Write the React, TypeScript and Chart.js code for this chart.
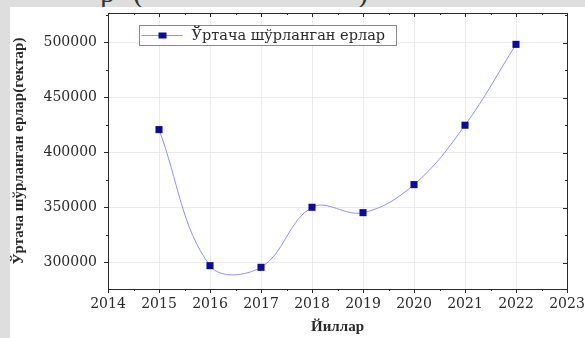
import React, { useEffect, useRef } from "react";
import { Chart, registerables } from "chart.js";

Chart.register(...registerables);

const years = [2015, 2016, 2017, 2018, 2019, 2020, 2021, 2022];
const values = [421000, 297300, 295800, 350400, 345500, 371000, 425000, 498500];
const xTicks = [2014, 2015, 2016, 2017, 2018, 2019, 2020, 2021, 2022, 2023];
const yTicks = [300000, 350000, 400000, 450000, 500000];
const xMinor = [2014.5, 2015.5, 2016.5, 2017.5, 2018.5, 2019.5, 2020.5, 2021.5, 2022.5];
const yMinor = [275000, 325000, 375000, 425000, 475000, 525000];
const seriesLabel = "Ўртача шўрланган ерлар";
const xTitle = "Йиллар";
const yTitle = "Ўртача шўрланган ерлар(гектар)";

const AXIS = "#2a2a2a";

const framePlugin = {
  id: "frame",
  afterDatasetsDraw(chart: any) {
    const { ctx, chartArea: a, scales } = chart;
    const xs = scales.x;
    const ys = scales.y;
    ctx.save();
    ctx.strokeStyle = AXIS;
    ctx.lineWidth = 1;
    ctx.strokeRect(Math.round(a.left) + 0.5, Math.round(a.top) + 0.5, Math.round(a.right - a.left), Math.round(a.bottom - a.top));
    ctx.beginPath();
    xTicks.forEach((v) => {
      const px = Math.round(xs.getPixelForValue(v)) + 0.5;
      ctx.moveTo(px, a.top);
      ctx.lineTo(px, a.top + 4);
    });
    yTicks.forEach((v) => {
      const py = Math.round(ys.getPixelForValue(v)) + 0.5;
      ctx.moveTo(a.right, py);
      ctx.lineTo(a.right - 4, py);
    });
    xMinor.forEach((v) => {
      const px = Math.round(xs.getPixelForValue(v)) + 0.5;
      ctx.moveTo(px, a.bottom);
      ctx.lineTo(px, a.bottom + 2);
      ctx.moveTo(px, a.top);
      ctx.lineTo(px, a.top + 2);
    });
    yMinor.forEach((v) => {
      if (v < ys.min || v > ys.max) return;
      const py = Math.round(ys.getPixelForValue(v)) + 0.5;
      ctx.moveTo(a.left, py);
      ctx.lineTo(a.left - 2, py);
      ctx.moveTo(a.right, py);
      ctx.lineTo(a.right - 2, py);
    });
    ctx.stroke();

    const ds = chart.data.datasets[0];
    const bx = 139.5, by = 25.5, bw = 257, bh = 20;
    ctx.fillStyle = "#ffffff";
    ctx.fillRect(bx, by, bw, bh);
    ctx.strokeStyle = "#8a8a8a";
    ctx.strokeRect(bx, by, bw, bh);
    const cy = by + bh / 2;
    ctx.strokeStyle = ds.borderColor;
    ctx.beginPath();
    ctx.moveTo(bx + 2, cy);
    ctx.lineTo(bx + 43, cy);
    ctx.stroke();
    ctx.fillStyle = ds.pointBackgroundColor;
    ctx.fillRect(bx + 19, cy - 3, 8, 6);
    ctx.fillStyle = AXIS;
    ctx.font = '14.5px "DejaVu Serif"';
    ctx.textBaseline = "middle";
    ctx.textAlign = "left";
    ctx.fillText(ds.label, bx + 52, cy + 1);
    ctx.restore();
  },
};

export default function App() {
  const ref = useRef<HTMLCanvasElement>(null);

  useEffect(() => {
    if (!ref.current) return;
    const chart = new Chart(ref.current, {
      type: "line",
      data: {
        datasets: [
          {
            label: seriesLabel,
            data: years.map((y, i) => ({ x: y, y: values[i] })),
            borderColor: "#9090ff",
            borderWidth: 1,
            tension: 0.38,
            pointStyle: "rect",
            pointRadius: 5,
            pointBackgroundColor: "#0b0b9c",
            pointBorderColor: "#0b0b9c",
            pointBorderWidth: 0,
          },
        ],
      },
      options: {
        responsive: false,
        maintainAspectRatio: false,
        animation: false,
        layout: { padding: { left: 0, right: 18, top: 13, bottom: 0 } },
        plugins: { legend: { display: false }, tooltip: { enabled: false } },
        scales: {
          x: {
            type: "linear",
            min: 2014,
            max: 2023,
            afterBuildTicks: (s: any) => {
              s.ticks = xTicks.map((v) => ({ value: v }));
            },
            afterFit: (s: any) => {
              s.height = 49;
              s.paddingLeft = 0;
              s.paddingRight = 0;
            },
            grid: { color: "#ebebeb", tickColor: AXIS, tickLength: 4 },
            border: { color: AXIS },
            ticks: {
              font: { family: "DejaVu Serif", size: 14 },
              color: AXIS,
              padding: 3,
              maxRotation: 0,
              autoSkip: false,
              callback: (v: any) => String(v),
            },
            title: {
              display: true,
              text: xTitle,
              color: AXIS,
              font: { family: "Liberation Serif", weight: "bold", size: 15 },
              padding: { top: 0, bottom: 2 },
            },
          },
          y: {
            type: "linear",
            min: 276100,
            max: 527000,
            afterBuildTicks: (s: any) => {
              s.ticks = yTicks.map((v) => ({ value: v }));
            },
            afterFit: (s: any) => {
              s.width = 108;
              s.paddingTop = 0;
              s.paddingBottom = 0;
            },
            grid: { color: "#ebebeb", tickColor: AXIS, tickLength: 4 },
            border: { color: AXIS },
            ticks: {
              font: { family: "DejaVu Serif", size: 14 },
              color: AXIS,
              padding: 7,
              callback: (v: any) => String(v),
            },
            title: {
              display: true,
              text: yTitle,
              color: AXIS,
              font: { family: "Liberation Serif", weight: "bold", size: 15 },
              padding: { top: 10, bottom: 0 },
            },
          },
        },
      },
      plugins: [framePlugin],
    } as any);
    return () => chart.destroy();
  }, []);

  const big: React.CSSProperties = {
    position: "absolute",
    top: -23,
    font: '30px "Liberation Serif"',
    lineHeight: "30px",
    color: "#333",
  };

  return (
    <div
      style={{
        position: "fixed",
        left: 0,
        top: 0,
        width: 585,
        height: 338,
        background: "#dedede",
        overflow: "hidden",
      }}
    >
      <div style={{ ...big, left: 100 }}>р</div>
      <div style={{ ...big, left: 133 }}>(</div>
      <div style={{ ...big, left: 358 }}>)</div>
      <div
        style={{
          position: "absolute",
          left: 10,
          top: 7,
          right: 0,
          bottom: 0,
          background: "#ffffff",
        }}
      />
      <canvas
        ref={ref}
        width={585}
        height={338}
        style={{ position: "absolute", left: 0, top: 0, width: 585, height: 338 }}
      />
    </div>
  );
}
